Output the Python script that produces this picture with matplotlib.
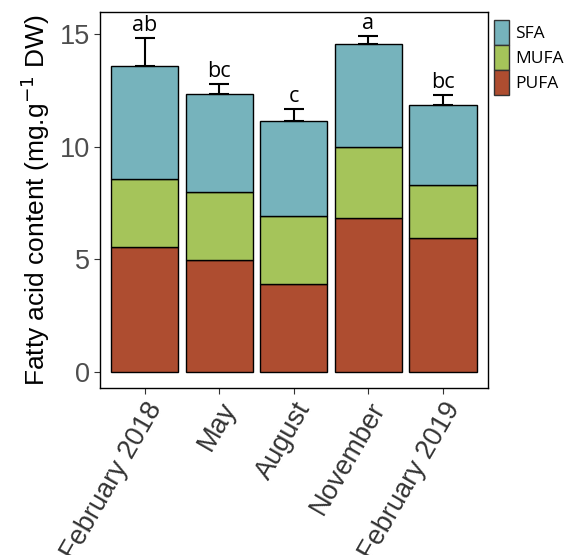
import matplotlib
matplotlib.use("Agg")
import matplotlib.pyplot as plt
import numpy as np
from matplotlib.patches import Patch

months = ["February 2018", "May", "August", "November", "February 2019"]
pufa = [5.55, 4.97, 3.90, 6.83, 5.95]
mufa = [3.02, 3.02, 3.02, 3.16, 2.35]
sfa = [5.01, 4.35, 4.22, 4.57, 3.55]
err = [1.24, 0.44, 0.53, 0.35, 0.45]
letters = ["ab", "bc", "c", "a", "bc"]

c_sfa = "#76B3BC"
c_mufa = "#A5C45A"
c_pufa = "#AE4D30"

fig = plt.figure(figsize=(5.66, 5.55), dpi=100)
ax = fig.add_axes([0.1767, 0.301, 0.685, 0.677])

x = np.arange(len(months))
pufa = np.array(pufa)
mufa = np.array(mufa)
sfa = np.array(sfa)
total = pufa + mufa + sfa

ax.bar(x, pufa, width=0.9, color=c_pufa, edgecolor="black", linewidth=1)
ax.bar(x, mufa, width=0.9, bottom=pufa, color=c_mufa, edgecolor="black", linewidth=1)
ax.bar(x, sfa, width=0.9, bottom=pufa + mufa, color=c_sfa, edgecolor="black", linewidth=1)
ax.errorbar(x, total, yerr=[np.zeros(len(x)), err], fmt="none", ecolor="black",
            elinewidth=1.5, capsize=7, capthick=1.5)
for xi, t, e, lab in zip(x, total, err, letters):
    ax.text(xi, t + e + 0.1, lab, ha="center", va="bottom", fontsize=15.5,
            family="Open Sans")

ax.set_xlim(-0.6, 4.6)
ax.set_ylim(-0.72, 15.98)
ax.set_yticks([0, 5, 10, 15])
ax.set_xticks(x)
ax.set_xticklabels(months, rotation=60, ha="right", rotation_mode="anchor",
                   fontsize=19.5, family="Liberation Sans", color="#333333")
for t in ax.get_yticklabels():
    t.set_fontsize(19.5)
    t.set_family("Liberation Sans")
    t.set_color("#4D4D4D")
ax.tick_params(length=4, color="#333333", pad=3)
ax.set_ylabel("Fatty acid content (mg.g$^{-1}$ DW)", fontsize=19,
              family="Liberation Sans", labelpad=6)
for s in ax.spines.values():
    s.set_linewidth(1)

handles = [Patch(facecolor=c_sfa, edgecolor="#333333", label="SFA"),
           Patch(facecolor=c_mufa, edgecolor="#333333", label="MUFA"),
           Patch(facecolor=c_pufa, edgecolor="#333333", label="PUFA")]
fig.legend(handles=handles, loc="upper left", bbox_to_anchor=(0.873, 0.964),
           frameon=False, prop={"family": "Open Sans", "size": 12.5},
           handlelength=0.85, handleheight=1.85, handletextpad=0.35,
           labelspacing=0.0, borderaxespad=0.0, borderpad=0.0)

fig.savefig("out.png", dpi=100)
